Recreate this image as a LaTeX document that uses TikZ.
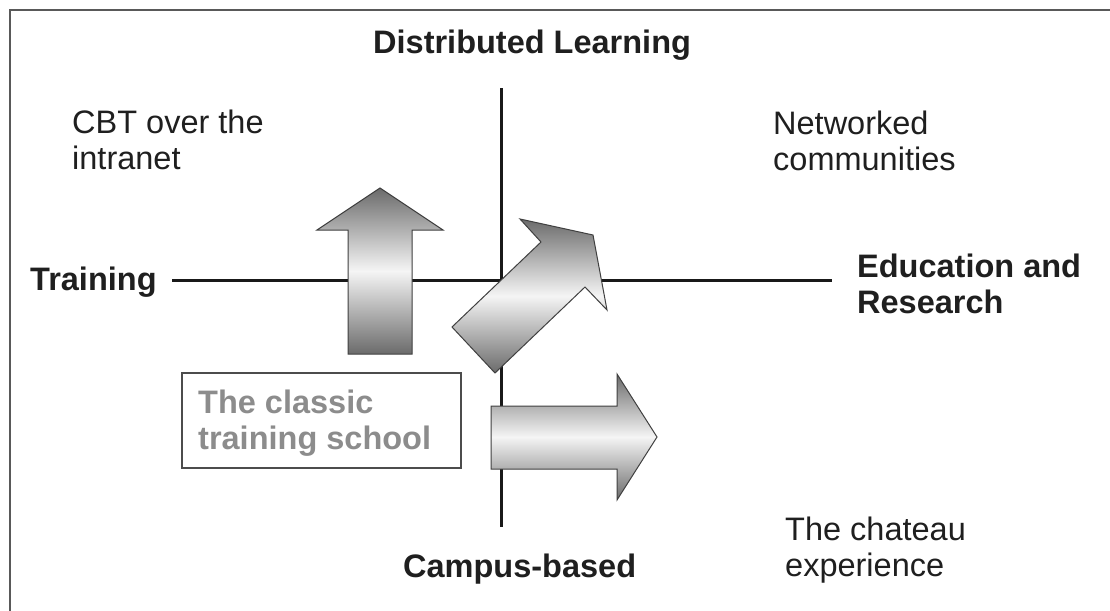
\documentclass[tikz,border=0pt]{standalone}
\usepackage{fontspec}
\setmainfont{Liberation Sans}
\begin{document}
\begin{tikzpicture}[x=1pt,y=-1pt,
  lbl/.style={inner sep=0pt, anchor=base west, align=left, font=\fontsize{32.5}{36}\selectfont, text=black!88},
  blbl/.style={lbl, font=\fontsize{32.5}{36}\selectfont\bfseries},
  glbl/.style={blbl, text=black!45},
  axis/.style={line width=3pt, black!90},
  frame/.style={line width=2pt, black!65},
  boxst/.style={line width=2pt, draw=black!70},
  arr/.style={draw=black!75, line width=1pt, top color=black!58, bottom color=black!58, middle color=black!4}]
\useasboundingbox (0,0) rectangle (1110,610);
\fill[white] (0,0) rectangle (1110,610);
% frame
\coordinate (fbl) at (10,612);
\coordinate (ftl) at (10,10);
\coordinate (ftr) at (1112,10);
\draw[frame] (fbl) -- (ftl) -- (ftr);
% axes
\coordinate (L) at (172,280);
\coordinate (R) at (832,280);
\coordinate (T) at (501,88);
\coordinate (B) at (501,527);
\draw[axis] (L) -- (R);
\draw[axis] (T) -- (B);
% arrows
\path[arr] (348,354) -- (348,230) -- (317,230) -- (380,188) -- (443,230) -- (412,230) -- (412,354) -- cycle;
\path[arr] (495,373) -- (452,327) -- (541,242) -- (520,219) -- (593,235) -- (607,310) -- (585,287) -- cycle;
\path[arr] (491,406) -- (617,406) -- (617,374) -- (657,437) -- (617,500) -- (617,469) -- (491,469) -- cycle;
% box
\coordinate (boxa) at (182,373);
\coordinate (boxb) at (461,468);
\draw[boxst] (boxa) rectangle (boxb);
\node[glbl] (classic) at (198,449) {The classic\\training school};
% labels (anchor at baseline of last line)
\node[blbl] (dist) at (373,54) {Distributed Learning};
\node[blbl] (train) at (30,290) {Training};
\node[blbl] (edu) at (857,313) {Education and\\Research};
\node[blbl] (campus) at (403,577) {Campus-based};
\node[lbl] (cbt) at (72,169) {CBT over the\\intranet};
\node[lbl] (net) at (773,170) {Networked\\communities};
\node[lbl] (chat) at (785,576) {The chateau\\experience};
\end{tikzpicture}
\end{document}
